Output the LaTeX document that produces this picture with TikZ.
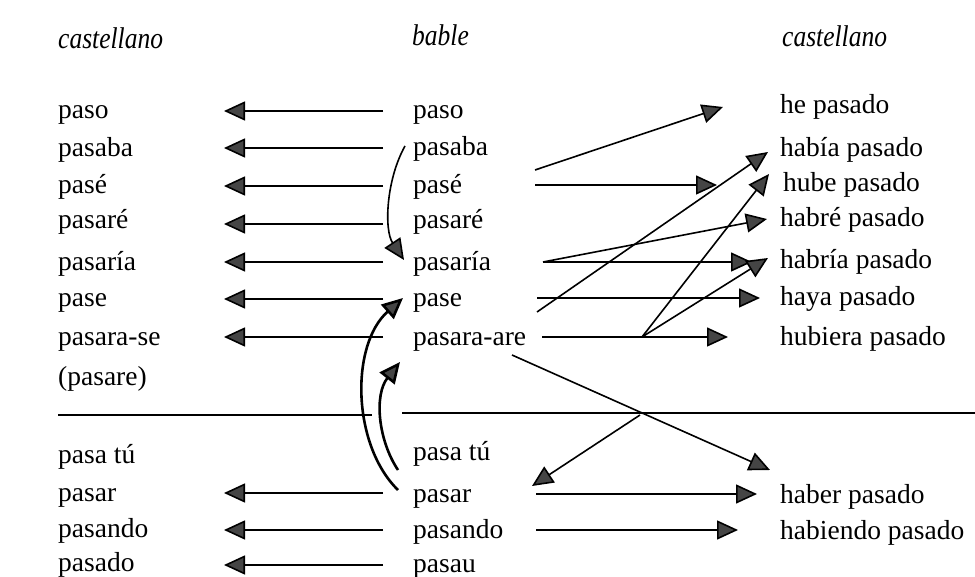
\documentclass[tikz,border=0pt]{standalone}
\usepackage{fontspec}
\setmainfont{Liberation Serif}
\newfontfamily\hdfont{Liberation Serif}[FakeStretch=0.85]
\usetikzlibrary{arrows.meta}
\definecolor{tipgray}{HTML}{454545}
\begin{document}
\begin{tikzpicture}[x=1pt,y=-1pt,
  lbl/.style={anchor=mid west, inner sep=0pt, yshift=-6pt, font=\fontsize{27.5}{33}\selectfont},
  hd/.style={anchor=mid west, inner sep=0pt, yshift=-6pt, font=\hdfont\itshape\fontsize{30}{36}\selectfont},
  arr/.style={line width=1.6pt, -{Triangle[length=21pt,width=19pt,fill=tipgray]}},
  carr/.style={line width=2.6pt, -{Triangle[length=21pt,width=19pt,fill=tipgray]}},
  sep/.style={line width=1.5pt}]
\useasboundingbox (0,0) rectangle (975,577);
% headers
\node[hd] (hL) at (58,40) {castellano};
\node[hd] (hM) at (412,37) {bable};
\node[hd] (hR) at (782,38) {castellano};
% left column
\node[lbl] (l1) at (58,110) {paso};
\node[lbl] (l2) at (58,148) {pasaba};
\node[lbl] (l3) at (58,185) {pasé};
\node[lbl] (l4) at (58,220) {pasaré};
\node[lbl] (l5) at (58,262) {pasaría};
\node[lbl] (l6) at (58,298) {pase};
\node[lbl] (l7) at (58,337) {pasara-se};
\node[lbl] (l8) at (58,377) {(pasare)};
\node[lbl] (l9) at (58,455) {pasa tú};
\node[lbl] (l10) at (58,493) {pasar};
\node[lbl] (l11) at (58,529) {pasando};
\node[lbl] (l12) at (58,563) {pasado};
% middle column
\node[lbl] (m1) at (413,110) {paso};
\node[lbl] (m2) at (413,147) {pasaba};
\node[lbl] (m3) at (413,185) {pasé};
\node[lbl] (m4) at (413,220) {pasaré};
\node[lbl] (m5) at (413,262) {pasaría};
\node[lbl] (m6) at (413,298) {pase};
\node[lbl] (m7) at (413,337) {pasara-are};
\node[lbl] (m9) at (413,452) {pasa tú};
\node[lbl] (m10) at (413,494) {pasar};
\node[lbl] (m11) at (413,530) {pasando};
\node[lbl] (m12) at (413,564) {pasau};
% right column
\node[lbl] (r1) at (780,105) {he pasado};
\node[lbl] (r2) at (780,148) {había pasado};
\node[lbl] (r3) at (783,183) {hube pasado};
\node[lbl] (r4) at (780,218) {habré pasado};
\node[lbl] (r5) at (780,260) {habría pasado};
\node[lbl] (r6) at (780,297) {haya pasado};
\node[lbl] (r7) at (780,337) {hubiera pasado};
\node[lbl] (r10) at (780,495) {haber pasado};
\node[lbl] (r11) at (780,531) {habiendo pasado};
% left arrows
\foreach \i/\y in {1/111,2/148,3/186,4/224,5/262,6/299,7/337,10/493,11/530,12/565}{
  \coordinate (ls\i) at (383,\y);
  \coordinate (le\i) at (224,\y);
  \draw[arr] (ls\i) -- (le\i);
}
% separator
\coordinate (sA) at (58,415);
\coordinate (sB) at (372,415);
\coordinate (sC) at (402,413);
\coordinate (sD) at (975,413);
\draw[sep] (sA) -- (sB);
\draw[sep] (sC) -- (sD);
% right arrows
\coordinate (a1s) at (535,170);  \coordinate (a1e) at (723,107);
\coordinate (a2s) at (535,185);  \coordinate (a2e) at (717,185);
\coordinate (a3s) at (543,262);  \coordinate (a3e) at (752,262);
\coordinate (a4e) at (767,219);
\coordinate (a5s) at (537,298);  \coordinate (a5e) at (760,298);
\coordinate (a6s) at (537,312);  \coordinate (a6e) at (768,152);
\coordinate (a7s) at (542,337);  \coordinate (a7e) at (728,337);
\coordinate (sp) at (642,337);
\coordinate (a8e) at (769,174);
\coordinate (a9e) at (768,258);
\coordinate (a10s) at (512,355); \coordinate (a10e) at (770,470);
\coordinate (cx) at (640,415);   \coordinate (a11e) at (532,486);
\coordinate (a12s) at (536,494); \coordinate (a12e) at (757,494);
\coordinate (a13s) at (536,530); \coordinate (a13e) at (738,530);
\draw[arr] (a1s) -- (a1e);
\draw[arr] (a2s) -- (a2e);
\draw[arr] (a3s) -- (a3e);
\draw[arr] (a3s) -- (a4e);
\draw[arr] (a5s) -- (a5e);
\draw[arr] (a6s) -- (a6e);
\draw[arr] (a7s) -- (a7e);
\draw[arr] (sp) -- (a8e);
\draw[arr] (sp) -- (a9e);
\draw[arr] (a10s) -- (a10e);
\draw[arr] (cx) -- (a11e);
\draw[arr] (a12s) -- (a12e);
\draw[arr] (a13s) -- (a13e);
% curved arrows
\coordinate (c1s) at (405,146);  \coordinate (c1e) at (404,260);
\draw[arr] (c1s) .. controls (386,180) and (384,230) .. (c1e);
\coordinate (c2s) at (398,490);  \coordinate (c2e) at (403,298);
\draw[carr] (c2s) .. controls (352,445) and (350,345) .. (c2e);
\coordinate (c3s) at (398,470);  \coordinate (c3e) at (400,362);
\draw[carr] (c3s) .. controls (378,440) and (374,395) .. (c3e);
\end{tikzpicture}
\end{document}
